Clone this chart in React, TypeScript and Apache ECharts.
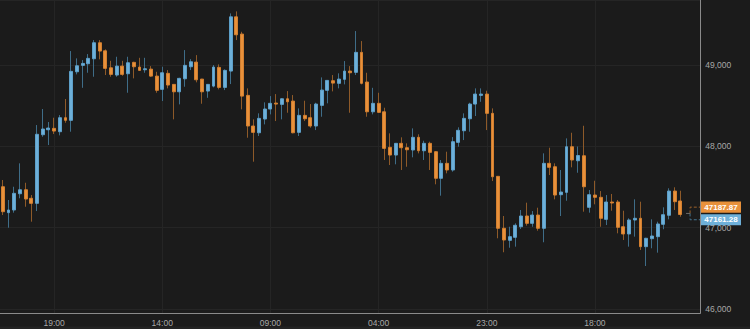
import React, { useEffect, useRef } from 'react';
import * as echarts from 'echarts';

// Hourly candles: [open, close, low, high] split into arrays
const OPEN = [
  47503, 47184, 47217, 47417, 47466, 47361, 47299, 48143, 48204, 48221,
  48180, 48352, 48320, 48917, 48996, 49016, 49077, 49274, 49175, 48966,
  48877, 48987, 48893, 49033, 48975, 48942, 48950, 48864, 48701, 48898,
  48762, 48671, 48831, 48979, 49036, 48827, 48680, 48741, 48971, 48725,
  48926, 49593, 49381, 48627, 48250, 48167, 48336, 48459, 48532, 48516,
  48585, 48557, 48172, 48381, 48352, 48250, 48504, 48689, 48807, 48775,
  48824, 48926, 48910, 49156, 48791, 48425, 48529, 48425, 47988, 47893,
  48037, 47983, 47955, 48111, 47946, 48037, 47934, 47607, 47791, 47709,
  48049, 48192, 48339, 48520, 48627, 48643, 48406, 47631, 46992, 46844,
  46881, 47011, 47143, 47053, 47155, 46992, 47791, 47749, 47405, 47434,
  47995, 47823, 47884, 47250, 47401, 47373, 47102, 47315, 47315, 47011,
  46922, 47094, 47115, 46766, 46864, 46889, 47041, 47152, 47450, 47328,
];
const CLOSE = [
  47196, 47217, 47422, 47466, 47352, 47299, 48148, 48213, 48225, 48188,
  48352, 48320, 48922, 48991, 49020, 49082, 49274, 49172, 48959, 48885,
  48987, 48885, 49028, 48979, 48934, 48954, 48864, 48689, 48905, 48754,
  48671, 48836, 48996, 49040, 48819, 48671, 48762, 48975, 48725, 48934,
  49593, 49372, 48618, 48250, 48172, 48344, 48459, 48529, 48520, 48585,
  48548, 48167, 48381, 48339, 48250, 48520, 48692, 48811, 48778, 48827,
  48926, 48905, 49156, 48775, 48425, 48529, 48418, 47975, 47893, 48037,
  47983, 47958, 48111, 47946, 48037, 47926, 47607, 47791, 47709, 48057,
  48197, 48344, 48520, 48643, 48643, 48406, 47626, 46992, 46848, 46889,
  47029, 47143, 47053, 47155, 46992, 47791, 47742, 47401, 47438, 47995,
  47832, 47887, 47503, 47405, 47373, 47115, 47315, 47303, 47004, 46922,
  47094, 47115, 46766, 46869, 46897, 47045, 47159, 47450, 47319, 47161.28,
];
const LOW = [
  47155, 46999, 47184, 47361, 47257, 47073, 47204, 48118, 48016, 48151,
  48135, 48290, 48180, 48885, 48720, 48905, 48856, 49070, 48877, 48856,
  48856, 48868, 48659, 48836, 48930, 48905, 48856, 48659, 48557, 48713,
  48332, 48516, 48733, 48938, 48787, 48524, 48597, 48725, 48701, 48692,
  48766, 49307, 48455, 48106, 47811, 48127, 48270, 48393, 48311, 48332,
  48413, 48160, 48127, 48311, 48229, 48200, 48364, 48529, 48676, 48713,
  48762, 48413, 48877, 48762, 48364, 48393, 48410, 47832, 47770, 47779,
  47709, 47749, 47865, 47914, 47832, 47709, 47533, 47393, 47668, 47688,
  47995, 48077, 48180, 48373, 48548, 48200, 47573, 46869, 46697, 46753,
  46766, 46983, 47024, 47011, 46962, 46820, 47647, 47348, 47143, 47331,
  47742, 47675, 47196, 47184, 47287, 47011, 47032, 47208, 46930, 46848,
  46766, 46889, 46725, 46528, 46746, 46692, 46980, 47102, 47217, 47134,
];
const HIGH = [
  47586, 47340, 47503, 47791, 47552, 47401, 48262, 48459, 48299, 48352,
  48385, 48582, 49172, 49082, 49061, 49135, 49307, 49307, 49193, 49052,
  49102, 49052, 49102, 49040, 49089, 49089, 48987, 48917, 48979, 48938,
  48765, 48843, 49184, 49073, 49122, 48830, 48765, 49000, 49008, 48947,
  49635, 49660, 49409, 48713, 48332, 48406, 48541, 48618, 48643, 48590,
  48680, 48631, 48467, 48561, 48520, 48536, 48848, 48815, 48877, 48898,
  49049, 48987, 49418, 49295, 48905, 48720, 48659, 48475, 48160, 48040,
  48111, 48037, 48221, 48148, 48069, 48057, 47940, 47832, 47934, 48114,
  48234, 48406, 48536, 48713, 48713, 48684, 48467, 47635, 47143, 47011,
  47053, 47217, 47307, 47204, 47245, 47914, 47983, 47791, 47709, 48098,
  48167, 47998, 48253, 47463, 47577, 47450, 47401, 47414, 47340, 47208,
  47115, 47348, 47319, 46875, 47102, 47073, 47250, 47484, 47496, 47454,
];

const TIME_LABELS = ['19:00', '14:00', '09:00', '04:00', '23:00', '18:00'];
const TIME_LABEL_CANDLES = [9, 28, 47, 66, 85, 104];
const EMPTY_SLOTS = 3;
const Y_MIN = 45950;
const Y_MAX = 49800;
const PRICE_TAGS = [
  { label: '47187.87', value: 47187.87, kind: 'down' },
  { label: '47161.28', value: 47161.28, kind: 'up' },
];

const BG = '#1b1b1b';
const UP = '#6eb0d9';
const UP_BORDER = '#5d9fc8';
const DOWN = '#e8913b';
const DOWN_BORDER = '#d27f30';
const WICK_UP = '#3f6d88';
const WICK_DOWN = '#8e5a29';
const AXIS = '#8a8a8a';
const LABEL = '#a8a8a8';
const GRIDLINE = '#252525';
const FONT = "'Liberation Sans', Arial, Helvetica, sans-serif";
const GRID_LEFT = -3.3;
const GRID_RIGHT = 49.7;

export default function App() {
  const ref = useRef<HTMLDivElement>(null);

  useEffect(() => {
    document.body.style.margin = '0';
    const el = ref.current;
    if (!el) return;
    const chart = echarts.init(el, null, { renderer: 'svg' });

    const n = OPEN.length + EMPTY_SLOTS;
    const candleCats = Array.from({ length: n }, (_, i) => `k${i}`);
    const labelCats = Array.from({ length: 2 * n + 1 }, (_, j) => `p${j}`);
    const labelAt = new Map<number, string>();
    TIME_LABEL_CANDLES.forEach((c, k) => labelAt.set(2 * c + 1, TIME_LABELS[k]));

    const full = OPEN.map((o, i) => [o, CLOSE[i], LOW[i], HIGH[i]]);
    const bodies = OPEN.map((o, i) => [o, CLOSE[i], Math.min(o, CLOSE[i]), Math.max(o, CLOSE[i])]);

    chart.setOption({
      animation: false,
      backgroundColor: BG,
      grid: { left: GRID_LEFT, right: GRID_RIGHT, top: 0, bottom: 16 },
      xAxis: [
        { type: 'category', data: candleCats, show: false, boundaryGap: true, position: 'bottom' },
        {
          type: 'category',
          data: labelCats,
          boundaryGap: false,
          position: 'bottom',
          axisLine: { show: true, lineStyle: { color: AXIS, width: 1 } },
          axisTick: { show: false },
          axisLabel: {
            interval: (i: number) => labelAt.has(i),
            formatter: (_v: string, i: number) => labelAt.get(i) ?? '',
            color: LABEL,
            fontSize: 8.5,
            fontFamily: FONT,
            margin: 5,
          },
          splitLine: {
            show: true,
            interval: (i: number) => labelAt.has(i),
            lineStyle: { color: GRIDLINE, width: 1 },
          },
        },
      ],
      yAxis: {
        type: 'value',
        position: 'right',
        min: Y_MIN,
        max: Y_MAX,
        splitNumber: 4,
        axisLine: { show: true, lineStyle: { color: AXIS, width: 1 } },
        axisTick: { show: false },
        axisLabel: {
          formatter: (v: number) => v.toLocaleString('en-US'),
          showMinLabel: false,
          showMaxLabel: false,
          color: LABEL,
          fontSize: 8.5,
          fontFamily: FONT,
          margin: 5,
        },
        splitLine: { show: true, lineStyle: { color: GRIDLINE, width: 1 } },
      },
      series: [
        {
          type: 'candlestick',
          xAxisIndex: 0,
          data: full,
          barWidth: 1,
          silent: true,
          itemStyle: {
            color: WICK_UP,
            color0: WICK_DOWN,
            borderColor: WICK_UP,
            borderColor0: WICK_DOWN,
            borderWidth: 1,
          },
        },
        {
          type: 'candlestick',
          xAxisIndex: 0,
          data: bodies,
          barWidth: 3.4,
          itemStyle: {
            color: UP,
            color0: DOWN,
            borderColor: UP_BORDER,
            borderColor0: DOWN_BORDER,
            borderWidth: 1,
          },
        },
      ],
    });

    // Price tags and leader lines, placed through the chart's own scales
    const finder = { xAxisIndex: 0, yAxisIndex: 0 };
    const xNext = (chart.convertToPixel(finder, [OPEN.length, PRICE_TAGS[0].value]) as number[])[0];
    const ys = PRICE_TAGS.map((t) => (chart.convertToPixel(finder, [0, t.value]) as number[])[1]);
    const mid = (ys[0] + ys[1]) / 2;
    const half = 6.3;
    const tagY = [mid - half, mid + half];
    const gridRightX = chart.getWidth() - GRID_RIGHT;
    const xv = xNext + 4;

    const graphics: any[] = [
      {
        type: 'rect',
        silent: true,
        z: -1,
        shape: { x: 0, y: chart.getHeight() - 2.5, width: chart.getWidth(), height: 2.5 },
        style: { fill: '#232323' },
      },
      {
        type: 'line',
        silent: true,
        shape: { x1: xNext, y1: mid, x2: xv, y2: mid },
        style: { stroke: '#6a6a6a', lineWidth: 1 },
      },
    ];
    PRICE_TAGS.forEach((t, k) => {
      const fill = t.kind === 'down' ? DOWN : UP;
      const dash = t.kind === 'down' ? '#9b612b' : '#45738f';
      graphics.push({
        type: 'polyline',
        silent: true,
        shape: { points: [[xv, mid], [xv, tagY[k]], [gridRightX, tagY[k]]] },
        style: { stroke: dash, lineWidth: 1, lineDash: [3, 2], fill: null },
      });
      graphics.push({
        type: 'rect',
        silent: true,
        z: 100,
        shape: { x: gridRightX + 0.7, y: tagY[k] - 5.6, width: 40, height: 11.2 },
        style: { fill },
      });
      graphics.push({
        type: 'text',
        silent: true,
        z: 101,
        x: gridRightX + 20.7,
        y: tagY[k],
        style: {
          text: t.label,
          fill: '#ffffff',
          fontSize: 8,
          fontWeight: 'bold',
          fontFamily: FONT,
          align: 'center',
          verticalAlign: 'middle',
        },
      });
    });
    chart.setOption({ graphic: graphics });

    return () => {
      chart.dispose();
    };
  }, []);

  return (
    <div
      ref={ref}
      style={{ position: 'fixed', left: 0, top: 0, width: 750, height: 329, background: BG }}
    />
  );
}
